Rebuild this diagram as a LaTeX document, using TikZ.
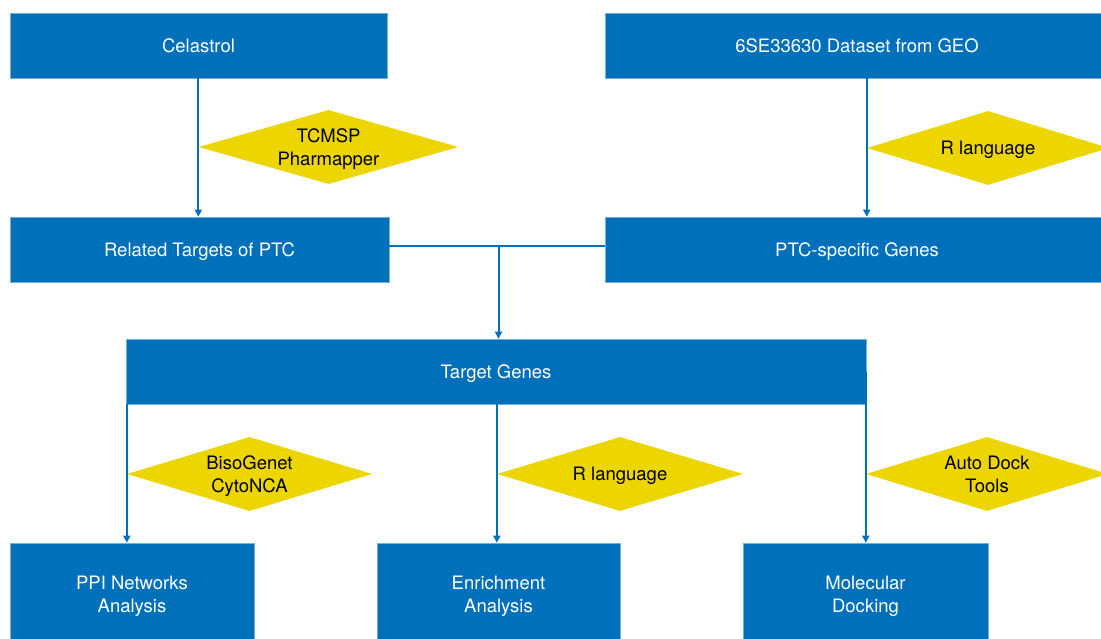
\documentclass[tikz,border=0pt]{standalone}
\usepackage{fontspec}
\setmainfont{TeX Gyre Heros}
\usetikzlibrary{arrows.meta,positioning,shapes.geometric}
\definecolor{boxblue}{RGB}{0,112,186}
\definecolor{toolyellow}{RGB}{237,213,0}
\begin{document}
\begin{tikzpicture}[x=1pt,y=-1pt,font=\fontsize{18.5}{23}\selectfont,
  blk/.style={draw=boxblue!55!white,line width=0.6pt,fill=boxblue,text=white,
              inner sep=0pt,align=center,text depth=-0.5pt},
  tool/.style={diamond,fill=toolyellow,inner sep=0pt,align=center,shape aspect=3.5,
               text depth=-0.5pt},
  arr/.style={draw=boxblue,line width=2pt,-{Triangle[length=7pt,width=7pt]}},
  lnk/.style={draw=boxblue,line width=2pt}]
\clip (0,0) rectangle (1101,639);
% top row
\node[blk,minimum width=377pt,minimum height=65pt] (cel) at (198.5,45.5){Celastrol};
\node[blk,minimum width=504pt,minimum height=65pt] (geo) at (857,45.5){6SE33630 Dataset from GEO};
\node[tool,minimum width=260pt,minimum height=74pt] (tcm) at (328.5,147){TCMSP\\Pharmapper};
\node[tool,minimum width=242pt,minimum height=74pt] (rl1) at (988,148){R language};
% second row
\node[blk,minimum width=379pt,minimum height=65pt] (rt) at (199.5,249.5){Related Targets of PTC};
\node[blk,minimum width=504pt,minimum height=65pt] (pg) at (857,249.5){PTC-specific Genes};
% merged targets
\node[blk,minimum width=740pt,minimum height=65pt] (tg) at (496,371.5){Target Genes};
\node[tool,minimum width=245pt,minimum height=74pt] (bc) at (249.5,474){BisoGenet\\CytoNCA};
\node[tool,minimum width=246pt,minimum height=74pt] (rl2) at (620,474){R language};
\node[tool,minimum width=242pt,minimum height=74pt] (ad) at (987,474){Auto Dock\\Tools};
% analyses
\node[blk,minimum width=244pt,minimum height=102pt] (pp) at (132,594){PPI Networks\\Analysis};
\node[blk,minimum width=243pt,minimum height=102pt] (en) at (498.5,594){Enrichment\\Analysis};
\node[blk,minimum width=245pt,minimum height=102pt] (md) at (865.5,594){Molecular\\Docking};
% connectors
\draw[arr] (cel.south -| tcm.west) -- (rt.north -| tcm.west);
\draw[arr] (geo.south -| rl1.west) -- (pg.north -| rl1.west);
\draw[lnk] ([yshift=3pt]rt.east) -- ([yshift=3pt]pg.west);
\draw[arr] ([yshift=3pt]rt.east -| en.north) -- (tg.north -| en.north);
\draw[arr] (tg.south -| bc.west) -- (pp.north -| bc.west);
\draw[arr] (tg.south -| rl2.west) -- (en.north -| rl2.west);
\draw[arr] (tg.east -| ad.west) -- (md.north -| ad.west);
\end{tikzpicture}
\end{document}
